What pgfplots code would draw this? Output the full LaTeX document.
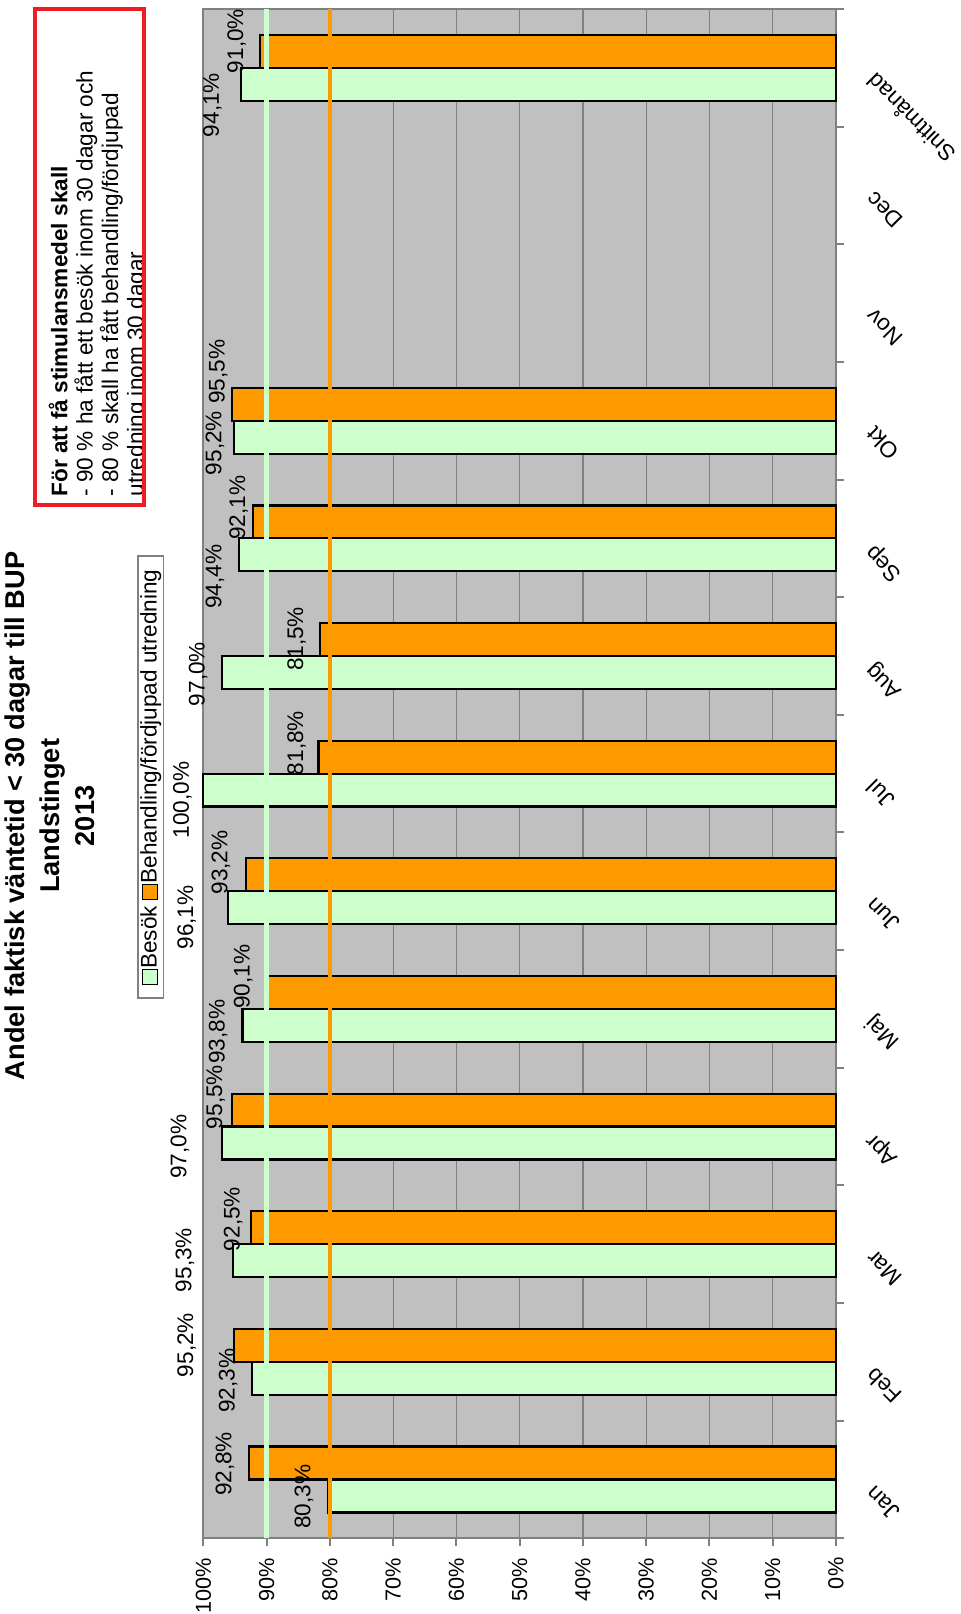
\documentclass[border=0pt]{standalone}
\usepackage{pgfplots}
\pgfplotsset{compat=1.18}
\usepackage{fontspec}
\setmainfont{Liberation Sans}
\definecolor{besok}{HTML}{CCFFCC}
\definecolor{beh}{HTML}{FF9900}
\definecolor{plotbg}{HTML}{C0C0C0}
\definecolor{axgray}{HTML}{808080}
\definecolor{boxred}{HTML}{EE1C25}
\newcommand{\lab}{\fontsize{10.85}{13}\selectfont}
\newcommand{\dlab}{\fontsize{11.3}{13}\selectfont}
\newcommand{\legbox}[1]{{\setlength{\fboxsep}{0pt}\setlength{\fboxrule}{0.5pt}\fcolorbox{black}{#1}{\rule{0pt}{7pt}\rule{7pt}{0pt}}}}
\begin{document}
\begin{tikzpicture}
\begin{axis}[
  at={(0pt,0pt)}, anchor=south west,
  scale only axis, width=316.35pt, height=764.65pt,
  xmin=0, xmax=100, ymin=-0.5, ymax=12.5,
  x dir=reverse, clip=false,
  axis background/.style={fill=plotbg},
  axis line style={draw=axgray, line width=1pt},
  every tick/.style={draw=axgray, line width=1pt},
  tick align=outside,
  major tick length=4pt,
  xtick={0,10,...,100},
  xticklabels={0\%,10\%,20\%,30\%,40\%,50\%,60\%,70\%,80\%,90\%,100\%},
  xtick pos=left,
  xticklabel style={font=\lab, yshift=-5.5pt, rotate=90, anchor=east, inner sep=0pt},
  xmajorgrids, major grid style={draw=axgray, line width=0.6pt},
  ytick={-0.5,0.5,...,12.5},
  yticklabel=\empty,
  ytick pos=right,
  extra y ticks={0,1,...,12},
  extra y tick labels={Jan,Feb,Mar,Apr,Maj,Jun,Jul,Aug,Sep,Okt,Nov,Dec,Snittmånad},
  extra y tick style={major tick length=0pt, yticklabel pos=right,
    yticklabel style={font=\dlab, xshift=17pt, yshift=-5pt, rotate=135, anchor=east, inner sep=0pt}},
]
\addplot[xbar, bar width=0.28, bar shift=-0.14, fill=besok, draw=black, line width=1.1pt]
  coordinates {(80.3,0) (92.3,1) (95.3,2) (97.0,3) (93.8,4) (96.1,5) (100.0,6) (97.0,7) (94.4,8) (95.2,9) (94.1,12)};
\addplot[xbar, bar width=0.28, bar shift=0.14, fill=beh, draw=black, line width=1.1pt]
  coordinates {(92.8,0) (95.2,1) (92.5,2) (95.5,3) (90.1,4) (93.2,5) (81.8,6) (81.5,7) (92.1,8) (95.5,9) (91.0,12)};
\addplot[besok, line width=2.3pt] coordinates {(90,-0.5) (90,12.5)};
\addplot[beh, line width=2.2pt] coordinates {(80,-0.5) (80,12.5)};
\addplot[draw=none, mark=none, nodes near coords={\pgfplotspointmeta\%}, point meta=explicit symbolic,
  every node near coord/.append style={font=\dlab, rotate=90, anchor=center, inner sep=0pt}]
  table[x=v, y=c, meta=t] {
v c t
96.57 0.132 92,8
84.08 -0.146 80,3
102.62 1.143 95,2
96.05 0.839 92,3
95.26 2.214 92,5
102.89 1.866 95,3
98.03 3.251 95,5
103.68 2.829 97,0
93.68 4.274 90,1
97.63 3.806 93,8
97.23 5.245 93,2
102.62 4.777 96,1
85.24 6.260 81,8
103.29 5.776 100,0
85.24 7.145 81,5
100.79 6.847 97,0
94.41 8.262 92,1
98.15 7.674 94,4
97.63 9.417 95,5
98.15 8.811 95,2
94.72 12.228 91,0
98.55 11.684 94,1
};
\end{axis}
\node[rotate=90, anchor=north, align=center, inner sep=0pt,
  font=\bfseries\fontsize{13.6}{17.5}\selectfont] at (-99.7pt,361.2pt)
  {Andel faktisk väntetid < 30 dagar till BUP\\Landstinget\\2013};
\node[rotate=90, draw=axgray, fill=white, line width=0.6pt, inner xsep=2pt, inner ysep=1.2pt,
  minimum width=221pt, font=\dlab] at (-26.2pt,380.6pt)
  {\legbox{besok}Besök \legbox{beh}Behandling/fördjupad utredning};
\begin{scope}
\clip (-84pt,516.6pt) rectangle (-29.6pt,764.8pt);
\node[rotate=90, anchor=north west, align=left, inner sep=0pt,
  font=\fontsize{11.3}{12.7}\selectfont] at (-77.5pt,520.7pt)
  {\textbf{För att få stimulansmedel skall}\\- 90 \% ha fått ett besök inom 30 dagar och\\- 80 \% skall ha fått behandling/fördjupad\\utredning inom 30 dagar};
\end{scope}
\draw[boxred, line width=2pt] (-84pt,516.6pt) rectangle (-29.6pt,764.8pt);
\pgfresetboundingbox
\path[use as bounding box] (-101.65pt,-37.85pt) rectangle (378.35pt,769.15pt);
\end{tikzpicture}
\end{document}
